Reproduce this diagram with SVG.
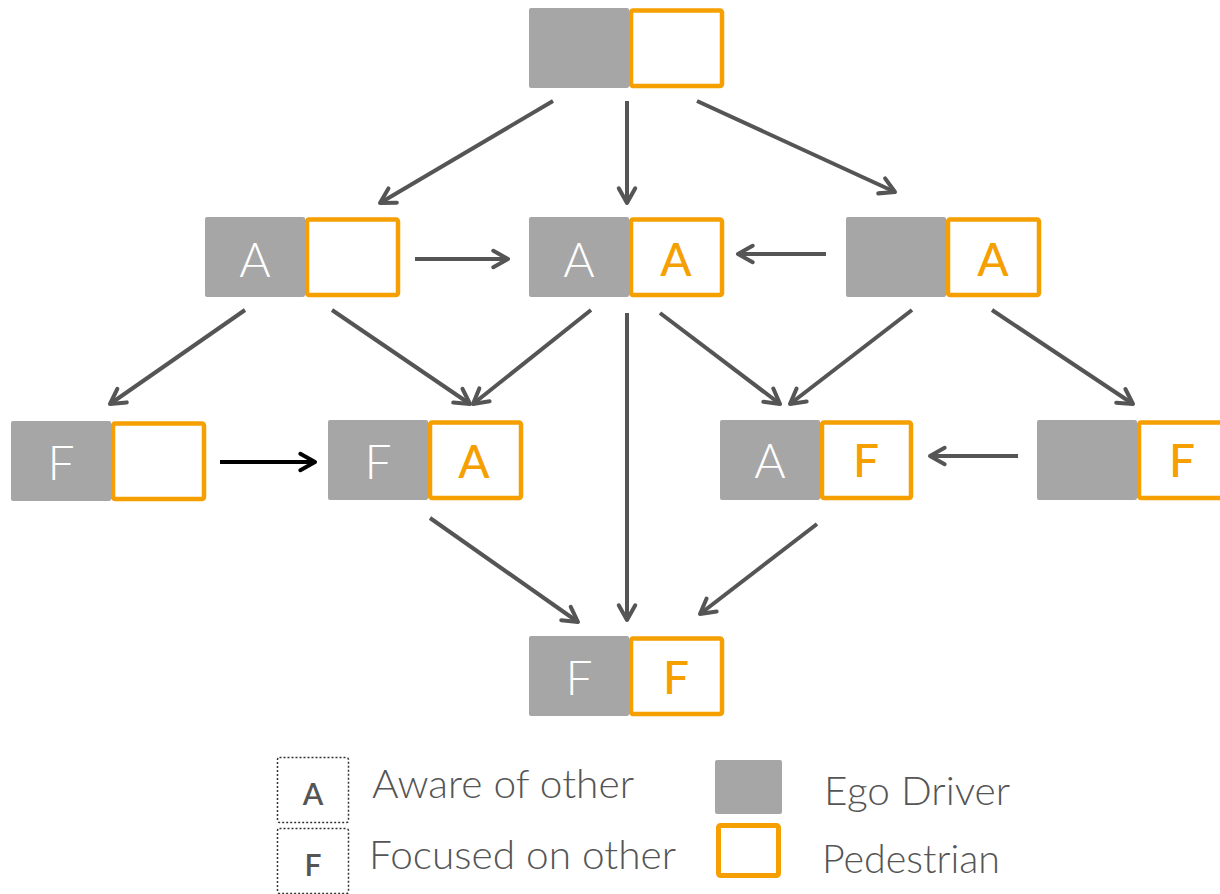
<svg xmlns="http://www.w3.org/2000/svg" width="1220" height="894" viewBox="0 0 1220 894">
<defs>
<marker id="ahg" viewBox="0 0 12 12" refX="10" refY="6" markerWidth="5.5" markerHeight="5.5" orient="auto" markerUnits="strokeWidth">
<path d="M2,1.5 L10,6 L2,10.5" fill="none" stroke="#555555" stroke-width="2.2" stroke-linecap="round" stroke-linejoin="round"/>
</marker>
<marker id="ahk" viewBox="0 0 12 12" refX="10" refY="6" markerWidth="5.5" markerHeight="5.5" orient="auto" markerUnits="strokeWidth">
<path d="M2,1.5 L10,6 L2,10.5" fill="none" stroke="#000000" stroke-width="2.2" stroke-linecap="round" stroke-linejoin="round"/>
</marker>
</defs>
<style>
.g{fill:#a6a6a6}
.o{fill:#ffffff;stroke:#f5a000;stroke-width:4.5}
.lw{font-family:Lato,"Liberation Sans",sans-serif;font-weight:300;font-size:48px;fill:#ffffff;text-anchor:middle}
.lo{font-family:Lato,"Liberation Sans",sans-serif;font-weight:500;font-size:46px;fill:#f5a000;text-anchor:middle}
.c line{stroke:#555555;stroke-width:4;marker-end:url(#ahg)}
.c line.k{stroke:#000000;marker-end:url(#ahk)}
.lt{font-family:Lato,"Liberation Sans",sans-serif;font-weight:300;font-size:39px;fill:#555555}
.ll{font-family:Lato,"Liberation Sans",sans-serif;font-weight:600;font-size:30px;fill:#555555;text-anchor:middle}
.db{fill:none;stroke:#333333;stroke-width:1.5;stroke-dasharray:2 2}
</style>
<g class="c">
<line x1="553" y1="101" x2="380" y2="203"/>
<line x1="627" y1="101" x2="627" y2="203"/>
<line x1="697" y1="101" x2="895" y2="192"/>
<line x1="415" y1="259" x2="508" y2="259"/>
<line x1="826" y1="254" x2="738" y2="254"/>
<line x1="245" y1="310" x2="110" y2="404"/>
<line x1="332" y1="310" x2="470" y2="404"/>
<line x1="591" y1="310" x2="473" y2="404"/>
<line x1="627" y1="313" x2="627" y2="620"/>
<line x1="660" y1="313" x2="780" y2="404"/>
<line x1="912" y1="310" x2="790" y2="404"/>
<line x1="992" y1="310" x2="1133" y2="404"/>
<line class="k" x1="220" y1="462" x2="315" y2="462"/>
<line x1="1018" y1="456" x2="930" y2="456"/>
<line x1="430" y1="518" x2="578" y2="622"/>
<line x1="817" y1="524" x2="700" y2="614"/>
</g>
<g id="n-top">
<rect class="o" x="631" y="10.5" width="91" height="75.5" rx="2"/>
<rect class="g" x="529" y="8" width="100" height="80" rx="2"/>
</g>
<g id="n-A-">
<rect class="o" x="307" y="219.5" width="91" height="75.5" rx="2"/>
<rect class="g" x="205" y="217" width="100" height="80" rx="2"/>
<text class="lw" x="255" y="277">A</text>
</g>
<g id="n-AA">
<rect class="o" x="631" y="219.5" width="91" height="75.5" rx="2"/>
<rect class="g" x="529" y="217" width="100" height="80" rx="2"/>
<text class="lw" x="579" y="277">A</text>
<text class="lo" x="676" y="276">A</text>
</g>
<g id="n--A">
<rect class="o" x="948" y="219.5" width="91" height="75.5" rx="2"/>
<rect class="g" x="846" y="217" width="100" height="80" rx="2"/>
<text class="lo" x="993" y="276">A</text>
</g>
<g id="n-F-">
<rect class="o" x="113" y="423.5" width="91" height="75.5" rx="2"/>
<rect class="g" x="11" y="421" width="100" height="80" rx="2"/>
<text class="lw" x="61" y="480">F</text>
</g>
<g id="n-FA">
<rect class="o" x="430" y="422.5" width="91" height="75.5" rx="2"/>
<rect class="g" x="328" y="420" width="100" height="80" rx="2"/>
<text class="lw" x="378" y="479">F</text>
<text class="lo" x="474" y="478">A</text>
</g>
<g id="n-AF">
<rect class="o" x="822" y="422.5" width="89" height="75.5" rx="2"/>
<rect class="g" x="720" y="420" width="100" height="80" rx="2"/>
<text class="lw" x="770" y="478">A</text>
<text class="lo" x="866" y="477">F</text>
</g>
<g id="n--F">
<rect class="o" x="1139" y="422.5" width="89" height="75.5" rx="2"/>
<rect class="g" x="1037" y="420" width="100" height="80" rx="2"/>
<text class="lo" x="1182" y="477">F</text>
</g>
<g id="n-FF">
<rect class="o" x="631" y="638.5" width="91" height="75.5" rx="2"/>
<rect class="g" x="529" y="636" width="100" height="80" rx="2"/>
<text class="lw" x="579" y="695">F</text>
<text class="lo" x="676" y="694">F</text>
</g>
<g id="legend">
<rect class="db" x="277.5" y="757.5" width="71" height="65" rx="2"/>
<text class="ll" x="313" y="805">A</text>
<text class="lt" x="372" y="798" textLength="262" lengthAdjust="spacingAndGlyphs">Aware of other</text>
<rect class="db" x="277.5" y="828.5" width="71" height="65" rx="2"/>
<text class="ll" x="313" y="876">F</text>
<text class="lt" x="369" y="869" textLength="307" lengthAdjust="spacingAndGlyphs">Focused on other</text>
<rect class="g" x="715" y="760" width="67" height="54" rx="2"/>
<text class="lt" x="824" y="805" textLength="186" lengthAdjust="spacingAndGlyphs">Ego Driver</text>
<rect fill="#ffffff" stroke="#f5a000" stroke-width="5" x="718.5" y="825.5" width="60" height="50" rx="2"/>
<text class="lt" x="822" y="873" textLength="178" lengthAdjust="spacingAndGlyphs">Pedestrian</text>
</g>
</svg>
